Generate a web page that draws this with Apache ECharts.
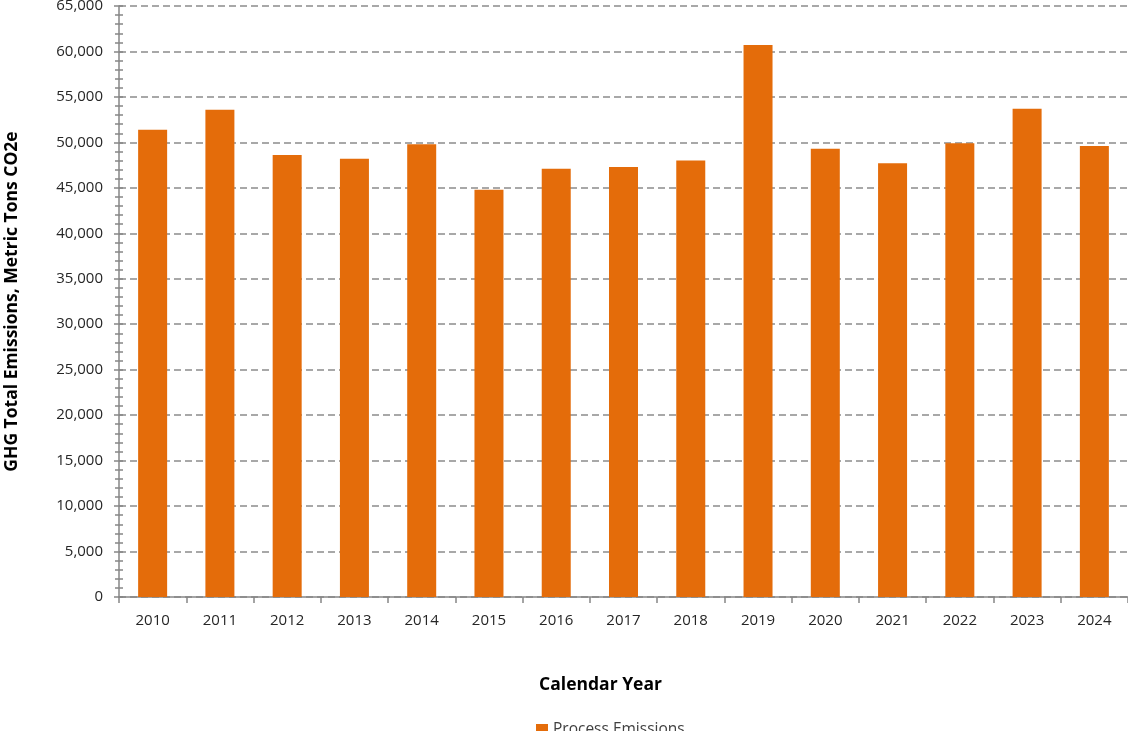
<!DOCTYPE html>
<html><head><meta charset="utf-8">
<script src="https://cdn.jsdelivr.net/npm/echarts@6/dist/echarts.min.js"></script>
<style>html,body{margin:0;padding:0;background:#fff}#c{width:1128px;height:731px}</style>
</head><body><div id="c"></div>
<script>
const years = ['2010','2011','2012','2013','2014','2015','2016','2017','2018','2019','2020','2021','2022','2023','2024'];
const processEmissions = [51400, 53600, 48600, 48200, 49800, 44800, 47100, 47300, 48000, 60700, 49300, 47700, 49900, 53700, 49600];
const seriesName = 'Process Emissions';
const xTitle = 'Calendar Year';
const yTitle = 'GHG Total Emissions, Metric Tons CO2e';

const font = 'Open Sans, Lato, sans-serif';
const axisGray = '#868686';
const chart = echarts.init(document.getElementById('c'));
chart.setOption({
  animation: false,
  grid: { left: 119, right: 0, top: 6, bottom: 134, containLabel: false, outerBoundsMode: 'none' },
  legend: {
    top: 717, left: 531, icon: 'rect', itemWidth: 12, itemHeight: 12, itemGap: 6,
    textStyle: { fontFamily: font, fontSize: 15.5, color: '#404040' },
    data: [seriesName]
  },
  xAxis: {
    type: 'category', data: years,
    name: xTitle, nameLocation: 'middle', nameGap: 79,
    nameTextStyle: { fontFamily: font, fontSize: 17.5, fontWeight: 'bold', color: '#000', padding: [0, 46, 0, 0] },
    axisLine: { lineStyle: { color: axisGray, width: 1.5 } },
    axisTick: { show: true, length: 6, lineStyle: { color: axisGray, width: 1.5 } },
    axisLabel: { fontFamily: font, fontSize: 15, color: '#262626', margin: 16 }
  },
  yAxis: [{
    type: 'value', min: 0, max: 65000, interval: 5000,
    name: yTitle, nameLocation: 'middle', nameGap: 98,
    nameTextStyle: { fontFamily: font, fontSize: 17.5, fontWeight: 'bold', color: '#000' },
    axisLine: { show: true, lineStyle: { color: axisGray, width: 1.5 } },
    axisTick: { show: true, length: 5, lineStyle: { color: axisGray, width: 1.5 } },
    minorTick: { show: true, splitNumber: 5, length: 4, lineStyle: { color: axisGray, width: 1.5 } },
    axisLabel: { fontFamily: font, fontSize: 15, color: '#262626', margin: 16,
      formatter: v => v.toLocaleString('en-US') },
    splitLine: { show: true, lineStyle: { color: '#8c8c8c', width: 1.5, type: [7, 4] } }
  }, {
    type: 'value', min: 0, max: 65000, interval: 5000, position: 'left', offset: 0,
    axisLine: { show: false },
    axisTick: { show: true, inside: true, length: 4, lineStyle: { color: axisGray, width: 1.5 } },
    minorTick: { show: true, splitNumber: 5, length: 4, lineStyle: { color: axisGray, width: 1.5 } },
    axisLabel: { show: false },
    splitLine: { show: false }
  }],
  series: [{
    name: seriesName, type: 'bar', data: processEmissions, barWidth: 29,
    itemStyle: { color: '#E46C0A' }
  }]
});
</script></body></html>
